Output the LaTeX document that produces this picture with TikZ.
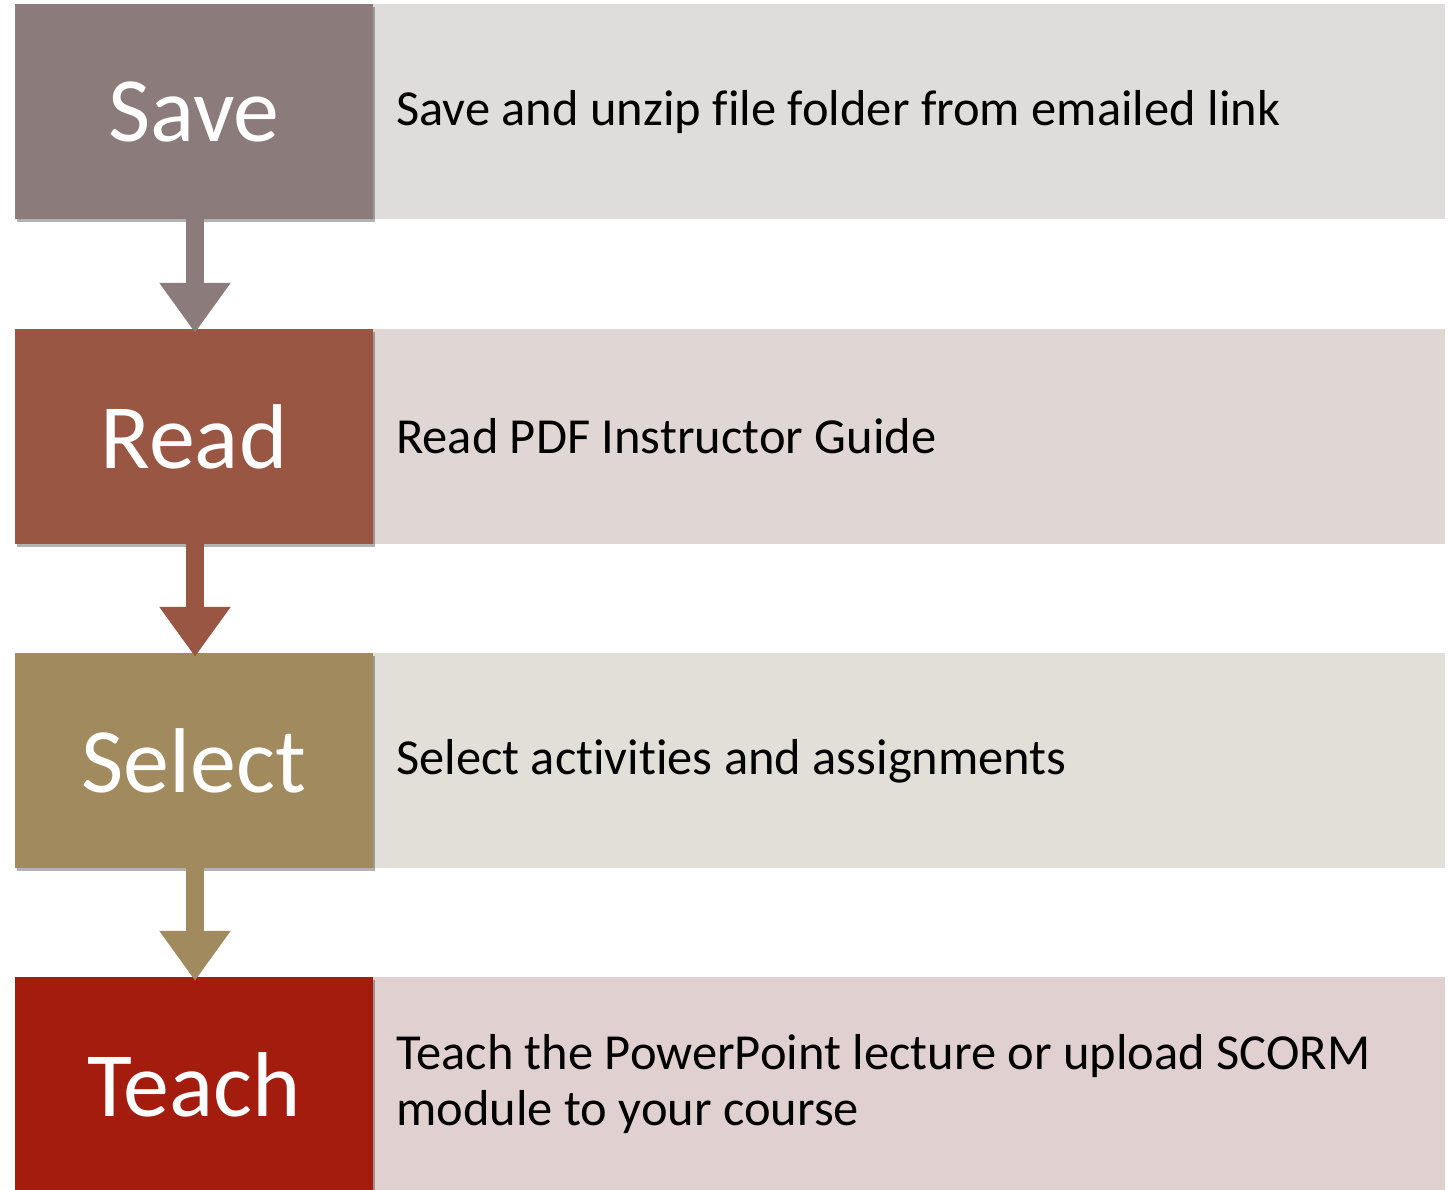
\documentclass[tikz,border=0pt]{standalone}
\usepackage{fontspec}
\setmainfont[Ligatures=NoCommon]{Carlito}
\usetikzlibrary{arrows.meta,shadows}
\definecolor{saveD}{HTML}{8B7B7B}
\definecolor{saveL}{HTML}{DEDDDB}
\definecolor{readD}{HTML}{995643}
\definecolor{readL}{HTML}{E0D6D3}
\definecolor{selD}{HTML}{A08A5E}
\definecolor{selL}{HTML}{E2DED8}
\definecolor{teachD}{HTML}{A31C0E}
\definecolor{teachL}{HTML}{E0D0D0}
\tikzset{
  stepbox/.style={minimum width=358pt, minimum height=215pt, inner sep=0pt,
    text=white, font=\fontsize{92}{98}\selectfont,
    drop shadow={shadow xshift=2pt, shadow yshift=-3pt, opacity=0.3, fill=black}},
  descbox/.style={minimum width=1072pt, minimum height=215pt, inner sep=0pt},
  desctext/.style={anchor=west, inner sep=0pt, align=left,
    font=\fontsize{50.5}{56}\selectfont, text=black},
  flow/.style={line width=18pt, -{Triangle[length=50pt,width=68pt]}}
}
\begin{document}
\begin{tikzpicture}[x=1pt,y=-1pt]
\useasboundingbox (0,0) rectangle (1453,1190);
\clip (0,0) rectangle (1453,1190);
\fill[white] (0,0) rectangle (1453,1190);
% description boxes
\node[descbox, fill=saveL]  (dsave)  at (909,111.5) {};
\node[descbox, fill=readL]  (dread)  at (909,436.5) {};
\node[descbox, fill=selL]   (dsel)   at (909,760.5) {};
\node[descbox, fill=teachL] (dteach) at (909,1084.5) {};
% step boxes
\node[stepbox, fill=saveD]  (save)  at (194,111.5) {Save};
\node[stepbox, fill=readD]  (read)  at (194,436.5) {Read};
\node[stepbox, fill=selD]   (sel)   at (194,760.5) {Select};
\node[stepbox, fill=teachD] (teach) at (194,1084.5) {Teach};
% connectors
\draw[flow, draw=saveD] ([xshift=1pt]save.south) -- ([xshift=1pt,yshift=-4pt]read.north);
\draw[flow, draw=readD] ([xshift=1pt]read.south) -- ([xshift=1pt,yshift=-4pt]sel.north);
\draw[flow, draw=selD] ([xshift=1pt]sel.south) -- ([xshift=1pt,yshift=-4pt]teach.north);
% texts
\node[desctext] (tsave) at (396,112) {Save and unzip file folder from emailed link};
\node[desctext] (tread) at (396,436) {Read PDF Instructor Guide};
\node[desctext] (tsel) at (396,761) {Select activities and assignments};
\node[desctext] (tteach) at (396,1084) {Teach the PowerPoint lecture or upload SCORM\\module to your course};
\end{tikzpicture}
\end{document}
